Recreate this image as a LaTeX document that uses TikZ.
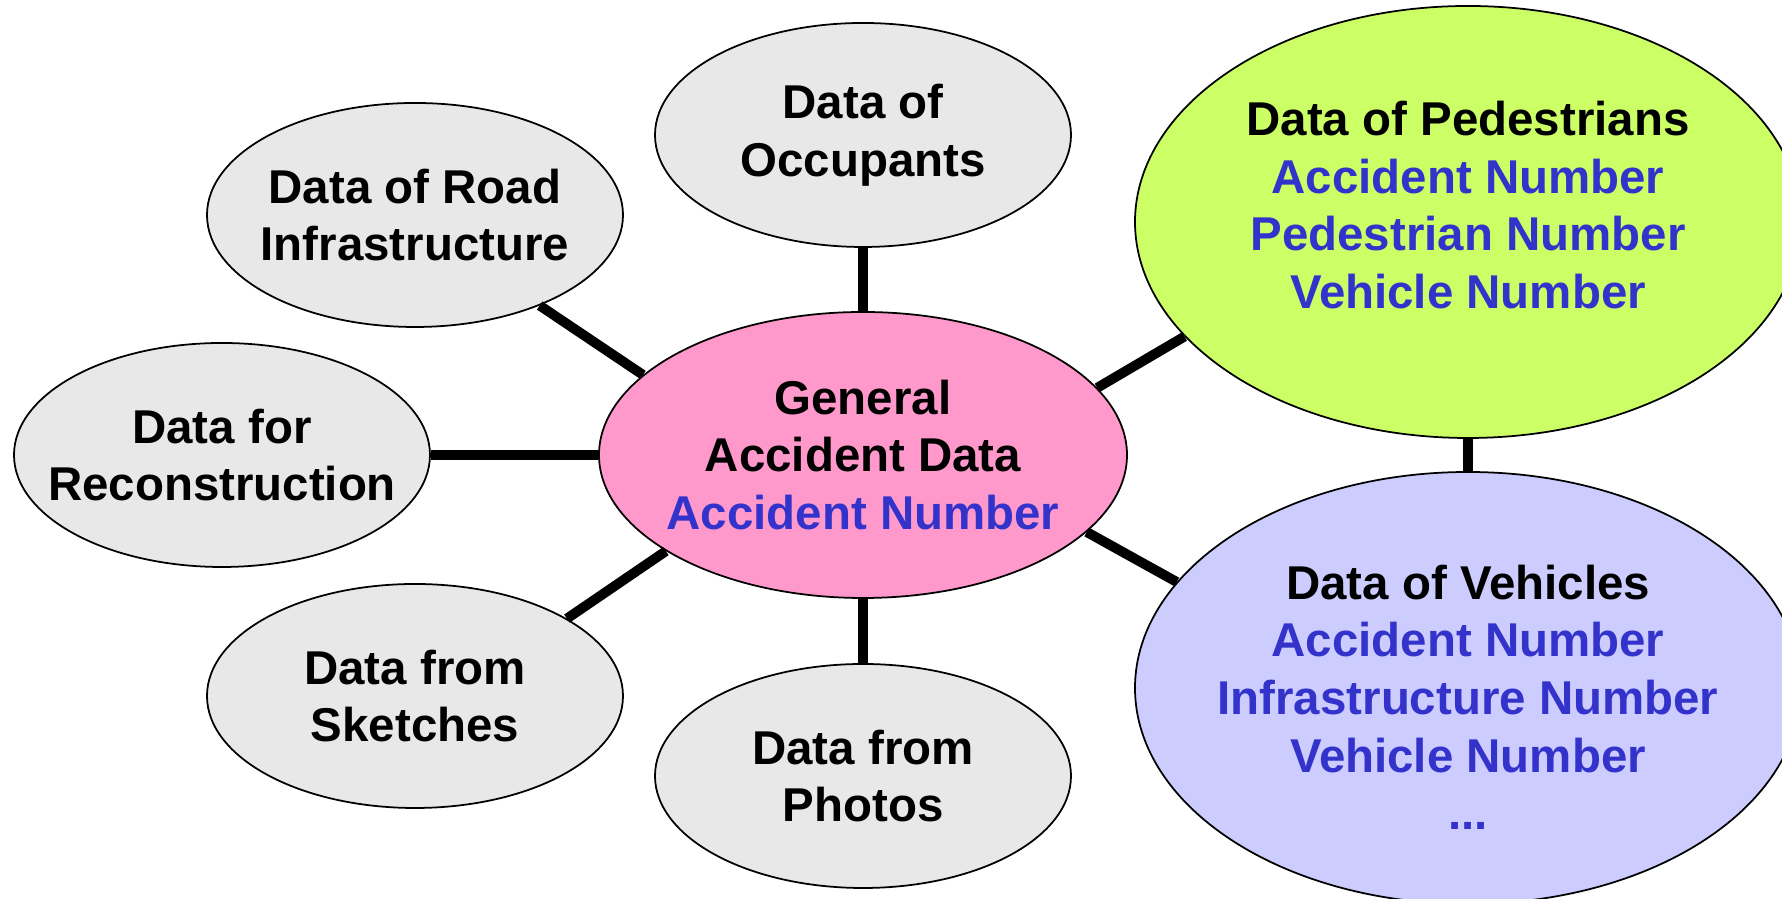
\documentclass[tikz,border=0pt]{standalone}
\usepackage{fontspec}
\setmainfont{Liberation Sans}
\usetikzlibrary{shapes.geometric}
\definecolor{plain}{RGB}{232, 232, 232}
\definecolor{general}{RGB}{255, 153, 204}
\definecolor{pedes}{RGB}{204, 255, 102}
\definecolor{vehic}{RGB}{204, 204, 255}
\definecolor{keyno}{RGB}{51, 51, 204}

\begin{document}
\begin{tikzpicture}[
    bubble/.style={ellipse, draw, line width=0.5pt, inner xsep=-1cm, inner ysep=0pt,
                   minimum width=4.16cm, minimum height=2.24cm, fill=plain, align=center,
                   font=\fontsize{13.5}{16.4}\selectfont\bfseries},
    big/.style={bubble, minimum width=6.66cm, minimum height=4.32cm},
    link/.style={line width=2.8pt}]
    \useasboundingbox (-8.63, -4.44) rectangle (9.19, 4.55);

    % Hub
    \node[bubble, fill=general, minimum width=5.28cm, minimum height=2.86cm] (gen) at (0, 0)
        {General\\Accident Data\\\textcolor{keyno}{Accident Number}};

    % Satellites
    \node[bubble] (occ) at (0, 3.20) {Data of\\Occupants};
    \node[bubble] (photo) at (0, -3.21) {Data from\\Photos};
    \node[bubble] (road) at (-4.48, 2.40) {Data of Road\\Infrastructure};
    \node[bubble] (rec) at (-6.41, 0) {Data for\\Reconstruction};
    \node[bubble] (sketch) at (-4.48, -2.41) {Data from\\Sketches};

    % Linked tables
    \node[big, fill=pedes] (ped) at (6.05, 2.33)
        {Data of Pedestrians\\\textcolor{keyno}{Accident Number}\\
         \textcolor{keyno}{Pedestrian Number}\\
         \textcolor{keyno}{Vehicle Number}\rule[-0.34cm]{0pt}{0pt}};
    \node[big, fill=vehic] (veh) at (6.05, -2.33)
        {\rule{0pt}{0.53cm}Data of Vehicles\\\textcolor{keyno}{Accident Number}\\
         \textcolor{keyno}{Infrastructure Number}\\
         \textcolor{keyno}{Vehicle Number}\\\textcolor{keyno}{...}};

    % Links
    \draw[link] (gen.north) -- (occ.south);
    \draw[link] (gen.south) -- (photo.north);
    \draw[link] (gen.west) -- (rec.east);
    \draw[link] (gen.160) -- (road.-36);
    \draw[link] (gen.206) -- (sketch.27);
    \draw[link] (gen.16) -- (ped.202);
    \draw[link] (gen.-19) -- (veh.160);
    \draw[link] (ped.south) -- (veh.north);
\end{tikzpicture}
\end{document}
